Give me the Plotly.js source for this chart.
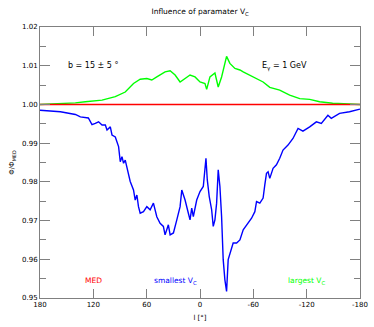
<!DOCTYPE html>
<html>
<head>
<meta charset="utf-8">
<script src="https://cdn.plot.ly/plotly-3.0.1.min.js"></script>
<style>
  html, body { margin: 0; padding: 0; background: #fff; }
  #chart { width: 374px; height: 327px; }
</style>
</head>
<body>
<div id="chart"></div>
<script>
// longitude l [deg] and flux ratio
const blueL = [180, 157.0, 140.2, 134.6, 125.6, 121.5, 117.8, 114.1, 110.2, 106.5, 104.6, 100.9, 99.0,
  95.3, 91.6, 89.7, 87.8, 86.0, 84.1, 80.4, 78.5, 74.8, 72.9, 71.0, 69.2, 67.3, 63.6, 59.8, 56.1,
  52.4, 48.6, 44.9, 41.2, 39.3, 35.6, 33.6, 29.9, 26.1, 22.4, 20.5, 16.8, 13.1, 11.2, 9.3, 7.5, 3.7, 0,
  -3.7, -6.7, -8.2, -10.4, -13.1, -14.9, -16.8, -18.7, -20.5, -22.4, -24.3, -26.1, -28.0, -29.9,
  -31.7, -33.6, -37.3, -41.2, -44.9, -48.6, -52.4, -58.0, -61.7, -63.6, -67.3, -71.0, -72.9, -74.8,
  -76.6, -78.5, -82.2, -86.0, -89.7, -93.4, -99.0, -104.6, -110.3, -115.8, -123.4, -130.9, -136.5,
  -143.9, -147.7, -157.0, -168.2, -177.5, -180];
const blueV = [0.9985, 0.9981, 0.9974, 0.9968, 0.9965, 0.9948, 0.9951, 0.9955, 0.9947, 0.9947, 0.9934,
  0.9942, 0.9921, 0.9916, 0.9891, 0.9852, 0.9865, 0.9848, 0.9856, 0.9822, 0.9801, 0.9779, 0.9753,
  0.9766, 0.9736, 0.9719, 0.9723, 0.9736, 0.9728, 0.9745, 0.9710, 0.9693, 0.9685, 0.9663, 0.9689,
  0.9663, 0.9668, 0.9702, 0.9736, 0.9779, 0.9753, 0.9719, 0.9702, 0.9732, 0.9710, 0.9753, 0.9775, 0.9788,
  0.9861, 0.9805, 0.9762, 0.9728, 0.9685, 0.9702, 0.9745, 0.9831, 0.9788, 0.9710, 0.9599, 0.9547,
  0.9517, 0.9599, 0.9612, 0.9642, 0.9642, 0.9650, 0.9676, 0.9689, 0.9706, 0.9723, 0.9749, 0.9745,
  0.9758, 0.9792, 0.9822, 0.9826, 0.9809, 0.9835, 0.9844, 0.9861, 0.9882, 0.9895, 0.9912, 0.9938,
  0.9931, 0.9942, 0.9955, 0.9951, 0.9972, 0.9964, 0.9977, 0.9981, 0.9985, 0.9988];

const greenL = [180, 157.0, 140.2, 129.0, 110.2, 95.3, 84.1, 74.8, 67.3, 59.8, 54.2, 48.6, 39.3, 33.6,
  28.0, 22.4, 16.8, 11.2, 5.6, 0, -5.6, -7.5, -11.2, -16.8, -20.5, -24.3, -29.9, -33.6, -39.3, -44.9,
  -48.6, -59.8, -71.0, -78.5, -89.7, -100.9, -112.2, -123.4, -134.6, -149.2, -180];
const greenV = [1.0000, 1.0002, 1.0004, 1.0007, 1.0011, 1.0020, 1.0032, 1.0054, 1.0065, 1.0067, 1.0063,
  1.0071, 1.0084, 1.0087, 1.0076, 1.0058, 1.0067, 1.0076, 1.0071, 1.0058, 1.0054, 1.0039, 1.0071,
  1.0081, 1.0045, 1.0071, 1.0124, 1.0106, 1.0093, 1.0089, 1.0084, 1.0071, 1.0058, 1.0044, 1.0037,
  1.0024, 1.0015, 1.0013, 1.0007, 1.0003, 1.0000];

const redL = [180, -180];
const redV = [1.0, 1.0];

const xTicks = [180, 120, 60, 0, -60, -120, -180];
const xTickText = ['180', '120', '60', '0', '-60', '-120', '-180'];
const yTicks = [0.95, 0.96, 0.97, 0.98, 0.99, 1.00, 1.01, 1.02];

const FONT = {family: 'DejaVu Sans, sans-serif', size: 7, color: '#000'};
const FRAME = '#808080';

function line(x, y, color) {
  return {x: x, y: y, type: 'scatter', mode: 'lines', line: {color: color, width: 1.4}, hoverinfo: 'none'};
}

const traces = [
  line(blueL, blueV, '#0000ff'),
  line(greenL, greenV, '#00ff00'),
  line(redL, redV, '#ff0000'),
];

const layout = {
  width: 374,
  height: 327,
  margin: {l: 39.5, r: 14, t: 27, b: 29},
  paper_bgcolor: '#fff',
  plot_bgcolor: '#fff',
  showlegend: false,
  font: FONT,
  title: {
    text: 'Influence of paramater V<sub>C</sub>',
    font: {family: 'DejaVu Sans, sans-serif', size: 7.5, color: '#000'},
    x: 0.535, xanchor: 'center', y: 0.965, yanchor: 'middle',
  },
  xaxis: {
    range: [180, -180],
    tickvals: xTicks,
    ticktext: xTickText,
    ticks: 'inside',
    ticklen: 9,
    tickcolor: FRAME,
    showline: true,
    linecolor: FRAME,
    linewidth: 1,
    mirror: 'ticks',
    showgrid: false,
    zeroline: false,
    title: {text: 'l [°]', font: FONT, standoff: 6},
  },
  yaxis: {
    range: [0.95, 1.02],
    tickvals: yTicks,
    tickformat: '.2f',
    ticks: 'inside',
    ticklen: 10,
    tickcolor: FRAME,
    minor: {dtick: 0.005, tick0: 0.95, ticks: 'inside', ticklen: 6, tickcolor: FRAME, showgrid: false},
    showline: true,
    linecolor: FRAME,
    linewidth: 1,
    mirror: 'ticks',
    showgrid: false,
    zeroline: false,
    title: {text: 'Φ/Φ<sub>MED</sub>', font: FONT, standoff: 6},
  },
  annotations: [
    {x: 120, y: 1.0101, text: 'b = 15 ± 5 °', font: {size: 8}},
    {x: -95, y: 1.0099, text: 'E<sub>γ</sub> = 1 GeV', font: {size: 8}},
    {x: 120, y: 0.9545, text: 'MED', font: {size: 7.5, color: '#ff0000'}},
    {x: 28, y: 0.9545, text: 'smallest V<sub>C</sub>', font: {size: 7.5, color: '#0000ff'}},
    {x: -120, y: 0.9545, text: 'largest V<sub>C</sub>', font: {size: 7.5, color: '#00ff00'}},
  ].map(a => Object.assign({xref: 'x', yref: 'y', showarrow: false}, a)),
};

Plotly.newPlot('chart', traces, layout, {displayModeBar: false, staticPlot: true});
</script>
</body>
</html>
